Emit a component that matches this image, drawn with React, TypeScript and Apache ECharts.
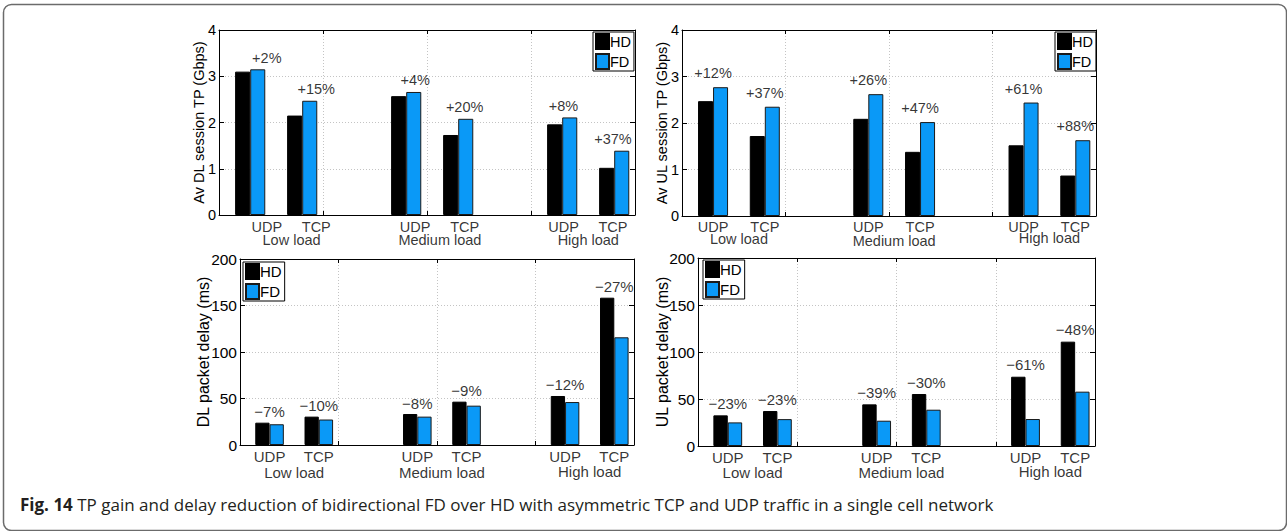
import React, { useEffect, useRef } from 'react';
import * as echarts from 'echarts';

// ---------- data ----------
const PROTOCOLS = ['UDP', 'TCP', 'UDP', 'TCP', 'UDP', 'TCP'];
const LOADS = ['Low load', 'Medium load', 'High load'];
const SERIES_NAMES = ['HD', 'FD'];

const TP_TICKS = [0, 1, 2, 3, 4];
const DELAY_TICKS = [0, 50, 100, 150, 200];

const DL_TP_HD = [3.1, 2.15, 2.57, 1.73, 1.96, 1.02];
const DL_TP_FD = [3.15, 2.47, 2.66, 2.08, 2.11, 1.39];
const DL_TP_GAIN = ['+2%', '+15%', '+4%', '+20%', '+8%', '+37%'];

const UL_TP_HD = [2.47, 1.72, 2.09, 1.38, 1.52, 0.87];
const UL_TP_FD = [2.77, 2.35, 2.62, 2.02, 2.44, 1.63];
const UL_TP_GAIN = ['+12%', '+37%', '+26%', '+47%', '+61%', '+88%'];

const DL_DELAY_HD = [24, 30.5, 33.3, 46.6, 52.7, 158.4];
const DL_DELAY_FD = [22.3, 27.4, 30.5, 42.3, 46.2, 115.8];
const DL_DELAY_RED = ['\u22127%', '\u221210%', '\u22128%', '\u22129%', '\u221212%', '\u221227%'];

const UL_DELAY_HD = [32.6, 37.2, 44.3, 55.3, 73.7, 111];
const UL_DELAY_FD = [25.1, 28.6, 26.9, 38.6, 28.7, 57.8];
const UL_DELAY_RED = ['\u221223%', '\u221223%', '\u221239%', '\u221230%', '\u221261%', '\u221248%'];

const CAPTION_BOLD = 'Fig. 14';
const CAPTION_TEXT =
  'TP gain and delay reduction of bidirectional FD over HD with asymmetric TCP and UDP traffic in a single cell network';

// ---------- layout ----------
const SLOTS = [0.6, 1.6, 3.6, 4.6, 6.6, 7.6];
const X_MIN = 0;
const X_MAX = 8;
const X_STEP = 2;
const FONT = 'Liberation Sans, Arial, Helvetica, sans-serif';
const CAP_FONT = 'Open Sans, Noto Sans, sans-serif';
const HD_COLOR = '#000000';
const FD_COLOR = '#0a99f7';

type Panel = {
  hd: number[];
  fd: number[];
  notes: string[];
  ticks: number[];
  name: string;
  grid: { left: number; top: number; width: number; height: number };
  nameGap: number;
  tickFont: number;
  labelFont: number;
  nameFont: number;
  legend: { left: number; top: number };
  k: number;
  b: number;
  protoDist: number;
  loadDist: number[];
  noteDist: number;
};

const PANELS: Panel[] = [
  {
    hd: DL_TP_HD, fd: DL_TP_FD, notes: DL_TP_GAIN, ticks: TP_TICKS,
    name: 'Av DL session TP (Gbps)',
    grid: { left: 219, top: 30, width: 416, height: 185 },
    nameGap: 13, tickFont: 14.5, labelFont: 14.5, nameFont: 14.5,
    legend: { left: 593, top: 32 }, k: 0.951, b: 0.349,
    protoDist: 3.5, loadDist: [17, 17, 17], noteDist: 4,
  },
  {
    hd: UL_TP_HD, fd: UL_TP_FD, notes: UL_TP_GAIN, ticks: TP_TICKS,
    name: 'Av UL session TP (Gbps)',
    grid: { left: 682, top: 30, width: 414, height: 186 },
    nameGap: 13, tickFont: 14.5, labelFont: 14.5, nameFont: 14.5,
    legend: { left: 1055, top: 32 }, k: 1, b: 0,
    protoDist: 3, loadDist: [15, 17, 14], noteDist: 6,
  },
  {
    hd: DL_DELAY_HD, fd: DL_DELAY_FD, notes: DL_DELAY_RED, ticks: DELAY_TICKS,
    name: 'DL packet delay (ms)',
    grid: { left: 240, top: 259, width: 394, height: 186 },
    nameGap: 29, tickFont: 15.5, labelFont: 15, nameFont: 16,
    legend: { left: 243, top: 262 }, k: 1, b: 0,
    protoDist: 3.5, loadDist: [19.5, 19.5, 18.5], noteDist: 3,
  },
  {
    hd: UL_DELAY_HD, fd: UL_DELAY_FD, notes: UL_DELAY_RED, ticks: DELAY_TICKS,
    name: 'UL packet delay (ms)',
    grid: { left: 698, top: 258, width: 397, height: 188 },
    nameGap: 28, tickFont: 15.5, labelFont: 15, nameFont: 16,
    legend: { left: 703, top: 260 }, k: 1, b: 0,
    protoDist: 3.5, loadDist: [18.5, 18.5, 17.5], noteDist: 4,
  },
];

function buildOption() {
  const grid: any[] = [];
  const xAxis: any[] = [];
  const yAxis: any[] = [];
  const series: any[] = [];
  const legend: any[] = [];

  PANELS.forEach((p, i) => {
    grid.push({ ...p.grid, containLabel: false });
    const dotted = { show: true, lineStyle: { color: '#c4c4c4', width: 1, type: [1, 2] } };
    const line = { show: true, onZero: false, lineStyle: { color: '#000', width: 1 } };
    const tick = { show: true, inside: true, length: 4, lineStyle: { color: '#000', width: 1 } };
    xAxis.push({
      type: 'value', gridIndex: i, position: 'bottom', min: X_MIN, max: X_MAX, interval: X_STEP,
      axisLine: line, axisTick: tick, axisLabel: { show: false }, splitLine: dotted,
    });
    xAxis.push({
      type: 'value', gridIndex: i, position: 'top', min: X_MIN, max: X_MAX, interval: X_STEP,
      axisLine: line, axisTick: tick, axisLabel: { show: false }, splitLine: { show: false },
    });
    const yMin = p.ticks[0];
    const yMax = p.ticks[p.ticks.length - 1];
    const yStep = p.ticks[1] - p.ticks[0];
    yAxis.push({
      type: 'value', gridIndex: i, position: 'left', min: yMin, max: yMax, interval: yStep,
      axisLine: line, axisTick: { ...tick, length: 5 },
      axisLabel: { show: true, margin: 3, color: '#000', fontSize: p.tickFont, fontFamily: FONT },
      splitLine: dotted,
      name: p.name, nameLocation: 'middle', nameGap: p.nameGap, nameMoveOverlap: false,
      nameTextStyle: { color: '#000', fontSize: p.nameFont, fontFamily: FONT },
    });
    yAxis.push({
      type: 'value', gridIndex: i, position: 'right', min: yMin, max: yMax, interval: yStep,
      axisLine: line, axisTick: { ...tick, length: 5 }, axisLabel: { show: false },
      splitLine: { show: false },
    });
    const xi = 2 * i;
    const yi = 2 * i;
    [p.hd, p.fd].forEach((vals, s) => {
      series.push({
        type: 'bar', name: SERIES_NAMES[s], xAxisIndex: xi, yAxisIndex: yi,
        barWidth: '29%', barGap: '0%',
        data: vals.map((v, j) => [SLOTS[j], v]),
        itemStyle: {
          color: s === 0 ? HD_COLOR : FD_COLOR,
          borderColor: s === 0 ? '#000' : '#1a1a1a',
          borderWidth: 1,
        },
        emphasis: { disabled: true },
        silent: true,
      });
    });
    const lx = (x: number) => p.k * x + p.b;
    const hidden = { color: 'rgba(0,0,0,0)' };
    const lbl = (size: number) => ({
      color: '#000', fontSize: size, fontFamily: FONT, lineHeight: Math.round(size * 0.8),
    });
    // protocol labels
    series.push({
      type: 'scatter', xAxisIndex: xi, yAxisIndex: yi, symbolSize: 1, itemStyle: hidden,
      silent: true, clip: false, z: 20,
      data: PROTOCOLS.map((t, j) => ({ value: [lx(SLOTS[j]), yMin], name: t })),
      label: { show: true, position: 'bottom', distance: p.protoDist + 1.5, formatter: '{b}', ...lbl(p.labelFont) },
    });
    // load labels
    series.push({
      type: 'scatter', xAxisIndex: xi, yAxisIndex: yi, symbolSize: 1, itemStyle: hidden,
      silent: true, clip: false, z: 20,
      data: LOADS.map((t, g) => ({
        value: [lx((SLOTS[2 * g] + SLOTS[2 * g + 1]) / 2), yMin],
        name: t,
        label: { distance: p.loadDist[g] + 1.5 },
      })),
      label: { show: true, position: 'bottom', formatter: '{b}', ...lbl(p.labelFont) },
    });
    // percentage notes
    series.push({
      type: 'scatter', xAxisIndex: xi, yAxisIndex: yi, symbolSize: 1, itemStyle: hidden,
      silent: true, clip: false, z: 20,
      data: p.notes.map((t, j) => ({ value: [lx(SLOTS[j]), Math.max(p.hd[j], p.fd[j])], name: t })),
      label: {
        show: true, position: 'top', distance: p.noteDist, formatter: '{b}',
        color: '#000', fontSize: p.labelFont, fontFamily: FONT, lineHeight: p.labelFont,
      },
    });
    legend.push({
      data: SERIES_NAMES,
      orient: 'vertical',
      left: p.legend.left,
      top: p.legend.top,
      padding: [1, 3, 1, 2],
      itemGap: 3,
      itemWidth: 13,
      itemHeight: 15,
      borderColor: '#000',
      borderWidth: 1,
      borderRadius: 0,
      backgroundColor: '#fff',
      selectedMode: false,
      icon: 'rect',
      textStyle: { color: '#000', fontSize: p.labelFont, fontFamily: FONT, padding: [0, 0, 0, -4] },
    });
  });

  return {
    animation: false,
    backgroundColor: '#fff',
    grid, xAxis, yAxis, series, legend,
    graphic: [
      {
        type: 'rect', silent: true,
        shape: { x: 3.5, y: 4.5, width: 1283, height: 526, r: 8 },
        style: { fill: 'none', stroke: '#6b6b6b', lineWidth: 1.5 },
      },
      {
        type: 'text', silent: true, x: 20, y: 504,
        style: {
          text: '{b|' + CAPTION_BOLD + '} ' + CAPTION_TEXT,
          fill: '#231f20', fontSize: 17, fontFamily: CAP_FONT, verticalAlign: 'middle',
          rich: { b: { fontWeight: 'bold', fontSize: 17, fontFamily: CAP_FONT, fill: '#231f20' } },
        },
      },
    ],
  };
}

export default function App() {
  const ref = useRef<HTMLDivElement>(null);
  useEffect(() => {
    if (!ref.current) return;
    const chart = echarts.init(ref.current, null, { renderer: 'svg' });
    chart.setOption(buildOption() as any);
    return () => chart.dispose();
  }, []);
  return (
    <div
      ref={ref}
      style={{ position: 'absolute', left: 0, top: 0, width: 1287, height: 531, background: '#fff' }}
    />
  );
}
